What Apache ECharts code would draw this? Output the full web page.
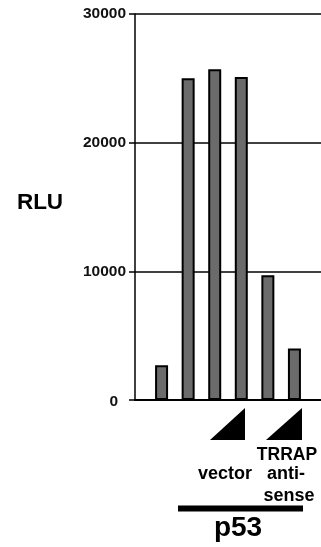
<!DOCTYPE html>
<html>
<head>
<meta charset="utf-8">
<script src="https://cdn.jsdelivr.net/npm/echarts@6/dist/echarts.min.js"></script>
<style>
html,body{margin:0;padding:0;background:#fff;}
#chart{width:321px;height:547px;}
</style>
</head>
<body>
<div id="chart"></div>
<script>
// Data
var categories = ['', 'control', 'p53', 'p53 + vector (low)', 'p53 + vector (high)', 'p53 + TRRAP antisense (low)', 'p53 + TRRAP antisense (high)', ''];
var rluValues = [null, 2700, 25000, 25700, 25100, 9700, 4000, null];
var yTicks = [0, 10000, 20000, 30000];
var yLabel = 'RLU';
var groupLabels = ['vector', 'TRRAP', 'anti-', 'sense'];
var bottomLabel = 'p53';

var chart = echarts.init(document.getElementById('chart'), null, {renderer: 'canvas'});
var FONT = 'Liberation Sans, Arial, sans-serif';

chart.setOption({
  animation: false,
  backgroundColor: '#ffffff',
  grid: {left: 135, right: 0, top: 14, bottom: 147, containLabel: false},
  xAxis: {
    type: 'category',
    data: categories,
    boundaryGap: false,
    axisLine: {show: true, lineStyle: {color: '#000', width: 2}},
    axisTick: {show: false},
    axisLabel: {show: false},
    splitLine: {show: false}
  },
  yAxis: {
    type: 'value',
    min: yTicks[0],
    max: yTicks[yTicks.length - 1],
    interval: yTicks[1] - yTicks[0],
    axisLine: {show: true, lineStyle: {color: '#000', width: 1.5}},
    axisTick: {show: true, length: 6, lineStyle: {color: '#000', width: 1.5}},
    axisLabel: {
      show: true, margin: 9, color: '#111',
      fontFamily: FONT, fontWeight: 'bold', fontSize: 15.5,
      formatter: function (v) { return v === 0 ? '{z|0}' : String(v); },
      rich: {z: {fontFamily: FONT, fontWeight: 'bold', fontSize: 15.5, color: '#111', padding: [4, 8, 0, 0]}}
    },
    splitLine: {show: true, lineStyle: {color: '#000', width: 1.5}}
  },
  series: [{
    type: 'bar',
    data: rluValues,
    barWidth: 13,
    itemStyle: {color: '#6b6b6b', borderColor: '#000', borderWidth: 2}
  }],
  graphic: [
    {type: 'text', x: 40, y: 203,
     style: {text: yLabel, font: 'bold 22.5px ' + FONT, fill: '#000', textAlign: 'center', textVerticalAlign: 'middle'}},
    {type: 'polygon', shape: {points: [[210, 440], [245, 408], [245, 440]]}, style: {fill: '#000'}},
    {type: 'polygon', shape: {points: [[266, 440], [302, 408], [302, 440]]}, style: {fill: '#000'}},
    {type: 'text', x: 225, y: 474,
     style: {text: groupLabels[0], font: 'bold 18px ' + FONT, fill: '#000', textAlign: 'center', textVerticalAlign: 'middle'}},
    {type: 'text', x: 287, y: 455,
     style: {text: groupLabels[1], font: 'bold 17.5px ' + FONT, fill: '#000', textAlign: 'center', textVerticalAlign: 'middle'}},
    {type: 'text', x: 286, y: 474,
     style: {text: groupLabels[2], font: 'bold 18px ' + FONT, fill: '#000', textAlign: 'center', textVerticalAlign: 'middle'}},
    {type: 'text', x: 289, y: 496,
     style: {text: groupLabels[3], font: 'bold 18px ' + FONT, fill: '#000', textAlign: 'center', textVerticalAlign: 'middle'}},
    {type: 'rect', shape: {x: 178, y: 505.5, width: 125, height: 6}, style: {fill: '#000'}},
    {type: 'text', x: 238, y: 528,
     style: {text: bottomLabel, font: 'bold 28px ' + FONT, fill: '#000', textAlign: 'center', textVerticalAlign: 'middle'}}
  ]
});
</script>
</body>
</html>
